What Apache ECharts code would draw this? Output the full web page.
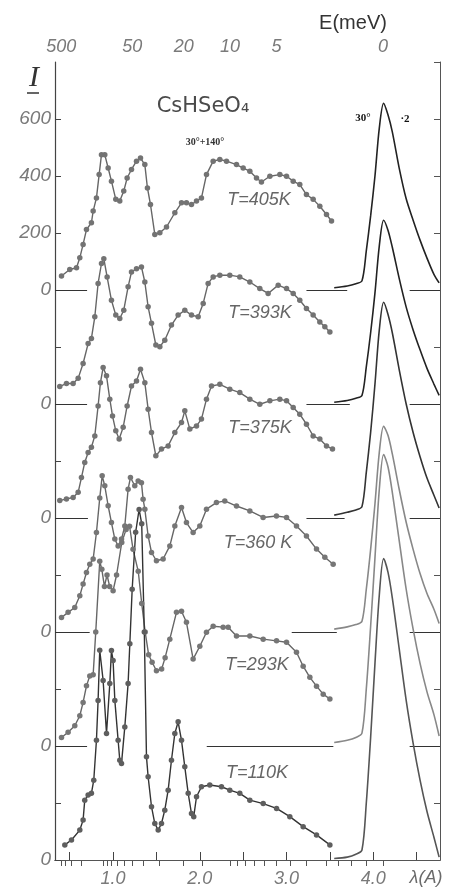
<!DOCTYPE html>
<html>
<head>
<meta charset="utf-8">
<script src="https://cdn.jsdelivr.net/npm/echarts@6.0.0/dist/echarts.min.js"></script>
<style>
html,body{margin:0;padding:0;background:#fff;}
#chart{width:449px;height:891px;}
</style>
</head>
<body>
<div id="chart"></div>
<script>
// wavelength (A) and intensity above each curve's own zero line
const lam405 = [0.405,0.50,0.578,0.616,0.654,0.693,0.75,0.77,0.808,0.839,0.866,0.904,0.943,0.981,1.031,1.077,1.123,1.162,1.212,1.27,1.316,1.366,1.396,1.431,1.481,1.539,1.616,1.712,1.789,1.846,1.904,1.962,2.019,2.077,2.154,2.231,2.308,2.423,2.50,2.577,2.654,2.711,2.808,2.923,3.0,3.077,3.153,3.23,3.307,3.384,3.461,3.519]
const int405 = [49,72,78,113,160,212,236,277,323,405,475,475,428,382,318,312,347,393,423,452,463,440,358,300,195,201,221,271,306,306,300,312,323,405,452,458,452,440,428,417,393,379,399,405,399,382,370,335,318,294,265,242]

const lam393 = [0.385,0.462,0.539,0.597,0.654,0.712,0.75,0.789,0.827,0.866,0.893,0.931,0.981,1.031,1.077,1.123,1.173,1.212,1.27,1.327,1.366,1.404,1.443,1.493,1.539,1.596,1.673,1.75,1.827,1.904,1.981,2.039,2.096,2.154,2.231,2.346,2.461,2.577,2.692,2.788,2.904,3.0,3.077,3.153,3.23,3.307,3.384,3.442,3.5]
const int393 = [61,72,72,90,142,212,230,306,423,493,510,446,364,312,300,329,411,463,475,481,428,341,283,207,201,224,277,312,329,312,306,353,423,446,452,452,446,428,405,388,417,405,388,364,335,312,288,271,253]

const lam375 = [0.385,0.462,0.539,0.597,0.635,0.673,0.712,0.75,0.789,0.827,0.854,0.885,0.924,0.962,0.993,1.031,1.07,1.116,1.162,1.212,1.27,1.316,1.366,1.404,1.443,1.493,1.558,1.635,1.712,1.789,1.827,1.885,1.962,2.019,2.077,2.135,2.231,2.346,2.461,2.577,2.692,2.808,2.923,3.0,3.077,3.153,3.23,3.307,3.384,3.461,3.53]
const int375 = [61,67,72,90,142,195,230,248,288,393,475,528,499,417,358,306,277,318,393,463,481,522,475,382,300,218,242,253,300,335,376,312,323,347,417,463,469,452,440,417,399,411,417,411,388,364,329,288,277,253,242]

const lam360 = [0.405,0.481,0.558,0.616,0.654,0.693,0.731,0.77,0.808,0.846,0.874,0.904,0.943,0.981,1.02,1.058,1.097,1.135,1.173,1.20,1.25,1.289,1.327,1.346,1.366,1.404,1.443,1.50,1.577,1.654,1.712,1.789,1.846,1.923,2.0,2.077,2.192,2.288,2.423,2.577,2.73,2.884,3.0,3.115,3.23,3.346,3.442,3.538]
const int360 = [51,69,86,127,168,209,238,256,349,470,548,513,443,384,326,302,326,372,501,542,513,530,524,466,431,337,279,250,256,302,372,437,384,349,372,431,454,460,442,425,402,407,402,372,337,291,262,238]

const lam293 = [0.405,0.481,0.558,0.616,0.654,0.693,0.731,0.77,0.80,0.846,0.87,0.90,0.93,0.96,1.0,1.04,1.1,1.15,1.19,1.23,1.29,1.33,1.37,1.41,1.45,1.50,1.56,1.60,1.654,1.731,1.789,1.846,1.923,2.0,2.077,2.154,2.269,2.327,2.423,2.577,2.731,2.885,3.0,3.115,3.192,3.269,3.346,3.423,3.5]
const int293 = [30,48,71,106,153,211,246,250,400,648,620,560,600,560,545,600,714,760,771,690,613,500,400,320,294,264,270,310,375,469,473,434,305,350,399,420,417,417,386,386,375,369,364,329,280,241,210,182,165]

const lam110 = [0.443,0.52,0.616,0.654,0.673,0.712,0.75,0.777,0.808,0.827,0.846,0.885,0.924,0.962,0.981,1.0,1.02,1.058,1.077,1.097,1.135,1.173,1.193,1.22,1.26,1.30,1.33,1.36,1.385,1.404,1.443,1.481,1.52,1.558,1.596,1.635,1.673,1.712,1.75,1.789,1.827,1.866,1.904,1.93,1.962,2.019,2.115,2.25,2.346,2.461,2.577,2.731,2.885,3.038,3.192,3.346,3.5]
const int110 = [53,70,105,140,210,228,234,280,420,560,736,630,444,619,735,700,560,420,350,339,467,619,759,950,1150,1230,1180,800,362,292,187,128,105,128,175,245,350,444,485,420,327,234,163,152,222,257,263,257,245,234,210,198,181,152,117,88,53]

// elastic line (30 deg, x2)
const peakLam = [3.55,3.70,3.80,3.87,3.92,3.97,4.02,4.07,4.12,4.17,4.22,4.30,4.38,4.46,4.54,4.62,4.70,4.76]
const peak405 = [8,14,22,32,137,260,400,568,655,615,555,427,320,245,175,112,55,25]
const peak393 = [6,12,20,30,130,250,390,555,645,610,550,440,340,260,190,125,70,30]
const peak375 = [10,20,28,40,160,300,470,660,757,715,650,520,400,300,215,140,80,35]
const peak360 = [10,18,26,38,150,290,450,630,722,690,625,500,385,290,205,135,80,30]
const peak293 = [12,20,30,45,200,420,660,900,1023,980,890,720,550,410,290,190,110,35]
const peak110 = [5,10,20,35,200,430,690,930,1058,1010,920,740,560,410,280,170,80,10]

const offsets = [2000,1600,1200,800,400,0]
const tempLabels = ['T=405K','T=393K','T=375K','T=360 K','T=293K','T=110K']

// zero lines are only drawn where the curves leave room
const zeroParts = [
    [[0.33,0.70],[3.23,3.70],[4.42,4.77]],
    [[0.33,0.70],[3.23,3.73],[4.42,4.77]],
    [[0.33,0.71],[3.23,3.67],[4.42,4.77]],
    [[0.33,0.73],[3.06,3.58],[4.42,4.77]],
    [[0.33,0.70],[2.08,3.54],[4.42,4.77]]
]

// energy transfer scale on top
const E0 = 4.84
const eTicks = [500,400,300,200,100,90,80,70,60,50,40,30,20,15,10,9,8,7,6,5,4,3,2,1.5,1,0.5,0]
const eLabels = [500,50,20,10,5,0]
const lamTicks = [0.5,1,1.5,2,2.5,3,3.5,4,4.5]
const lamLabels = [1,2,3,4]

const lamOfE = e => Math.sqrt(81.81 / (e + E0))

const spectra = [
    [lam405, int405, peak405, '#737373', '#222'],
    [lam393, int393, peak393, '#737373', '#222'],
    [lam375, int375, peak375, '#737373', '#333'],
    [lam360, int360, peak360, '#767676', '#888'],
    [lam293, int293, peak293, '#767676', '#888'],
    [lam110, int110, peak110, '#5e5e5e', '#555']
]

const series = []
spectra.forEach((s, k) => {
    const off = offsets[k]
    series.push({
        type: 'line',
        data: s[0].map((l, i) => [l, s[1][i] + off]),
        symbol: 'circle',
        symbolSize: 5.5,
        itemStyle: {color: s[3]},
        lineStyle: {color: k == 5 ? '#333' : '#666', width: 1.4},
        silent: true
    })
    series.push({
        type: 'line',
        data: peakLam.map((l, i) => [l, s[2][i] + off]),
        smooth: 0.3,
        showSymbol: false,
        lineStyle: {color: s[4], width: 1.6},
        silent: true
    })
})

const zeroLines = []
zeroParts.forEach((parts, k) => {
    parts.forEach(p => zeroLines.push({coords: [[p[0], offsets[k]], [p[1], offsets[k]]]}))
})
series.push({
    type: 'lines',
    coordinateSystem: 'cartesian2d',
    data: zeroLines,
    lineStyle: {color: '#333', width: 1, opacity: 1},
    silent: true
})

const labelFont = {color: '#7a7a7a', fontStyle: 'italic', fontFamily: 'Liberation Sans', fontSize: 18}

const tempPos = [[259,200],[260,313],[260,428],[258,543],[257,665],[257,773]]
const graphics = tempLabels.map((t, k) => ({
    type: 'text', x: tempPos[k][0], y: tempPos[k][1],
    style: {text: t, fill: '#666', font: 'italic 18px "Liberation Sans"', textAlign: 'center', textVerticalAlign: 'middle'}
}))
graphics.push(
    {type: 'text', x: 34, y: 78, style: {text: 'I', fill: '#333', font: 'italic 30px "Liberation Serif"', textAlign: 'center', textVerticalAlign: 'middle'}},
    {type: 'line', shape: {x1: 27, y1: 93, x2: 39, y2: 93}, style: {stroke: '#333', lineWidth: 1.5}},
    {type: 'text', x: 353, y: 23, style: {text: 'E(meV)', fill: '#333', font: '20px "Liberation Sans"', textAlign: 'center', textVerticalAlign: 'middle'}},
    {type: 'text', x: 203, y: 107, style: {text: 'CsHSeO₄', fill: '#4a4a4a', font: '21px "DejaVu Sans"', textAlign: 'center', textVerticalAlign: 'middle'}},
    {type: 'text', x: 205, y: 142, style: {text: '30°+140°', fill: '#333', font: 'bold 10px "Liberation Serif"', textAlign: 'center', textVerticalAlign: 'middle'}},
    {type: 'text', x: 363, y: 118, style: {text: '30°', fill: '#111', font: 'bold 11px "Liberation Serif"', textAlign: 'center', textVerticalAlign: 'middle'}},
    {type: 'text', x: 405, y: 119, style: {text: '·2', fill: '#111', font: 'bold 11px "Liberation Serif"', textAlign: 'center', textVerticalAlign: 'middle'}},
    {type: 'text', x: 426, y: 878, style: {text: 'λ(A)', fill: '#6a6a6a', font: 'italic 18px "Liberation Sans"', textAlign: 'center', textVerticalAlign: 'middle'}}
)

const chart = echarts.init(document.getElementById('chart'))
chart.setOption({
    animation: false,
    backgroundColor: '#fff',
    grid: {left: 55, right: 9, top: 62, bottom: 31},
    xAxis: [{
        type: 'value', min: 0.33, max: 4.77, position: 'bottom',
        axisLine: {lineStyle: {color: '#444', width: 1.2}},
        axisTick: {inside: true, length: 8, customValues: lamTicks, lineStyle: {color: '#444'}},
        axisLabel: Object.assign({customValues: lamLabels, margin: 10, formatter: v => v.toFixed(1)}, labelFont),
        splitLine: {show: false}
    }, {
        type: 'value', min: 0.33, max: 4.77, position: 'top',
        axisLine: {lineStyle: {color: '#555', width: 1}},
        axisTick: {inside: true, length: 6, customValues: eTicks.map(lamOfE), lineStyle: {color: '#555'}},
        axisLabel: Object.assign({customValues: eLabels.map(lamOfE), margin: 6,
            formatter: v => String(Math.round(81.81 / (v * v) - E0))}, labelFont),
        splitLine: {show: false}
    }],
    yAxis: [{
        type: 'value', min: 0, max: 2800, interval: 200, position: 'left',
        axisLine: {show: true, lineStyle: {color: '#444', width: 1.2}},
        axisTick: {inside: true, length: 6, lineStyle: {color: '#444'}},
        axisLabel: Object.assign({margin: 4, showMaxLabel: false,
            formatter: v => v > 2600 ? '' : (v >= 2000 ? String(v - 2000) : (v % 400 === 0 ? '0' : ''))}, labelFont, {fontSize: 19}),
        splitLine: {show: false}
    }, {
        type: 'value', min: 0, max: 2800, interval: 200, position: 'right',
        axisLine: {show: true, lineStyle: {color: '#555', width: 1}},
        axisTick: {inside: true, length: 6, lineStyle: {color: '#555'}},
        axisLabel: {show: false},
        splitLine: {show: false}
    }],
    series: series,
    graphic: graphics
})
</script>
</body>
</html>
